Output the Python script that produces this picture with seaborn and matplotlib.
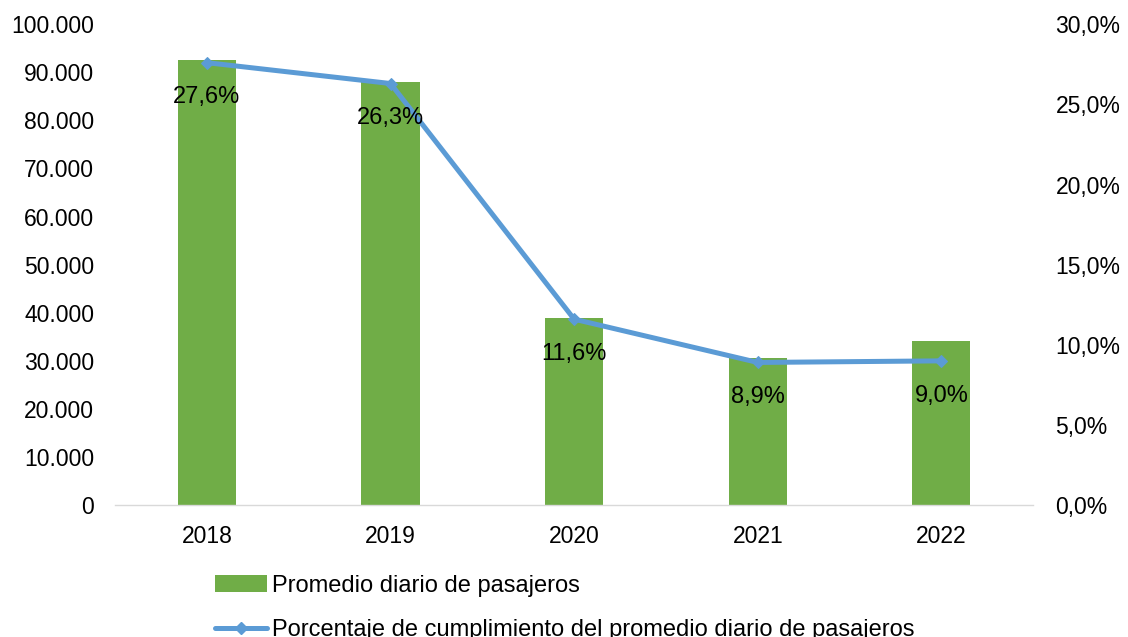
import matplotlib
matplotlib.use("Agg")
import matplotlib.pyplot as plt
import seaborn as sns
import pandas as pd
from matplotlib.ticker import FuncFormatter, MultipleLocator
from matplotlib.lines import Line2D
from matplotlib.patches import Patch

years = ["2018", "2019", "2020", "2021", "2022"]
pasajeros = [92500, 88000, 38900, 30600, 34200]
cumplimiento = [27.6, 26.3, 11.6, 8.9, 9.0]
bar_label = "Promedio diario de pasajeros"
line_label = "Porcentaje de cumplimiento del promedio diario de pasajeros"

sns.set_style("white")
plt.rcParams["font.family"] = ["Liberation Sans", "DejaVu Sans"]

df = pd.DataFrame({"year": years, "pas": pasajeros, "pct": cumplimiento})

fig = plt.figure(figsize=(11.28, 6.37), dpi=100)
ax = fig.add_axes([0.102, 0.207, 0.814, 0.755])
bar_c = "#70AD47"
line_c = "#5B9BD5"
fs = 16.5
sns.barplot(data=df, x="year", y="pas", color=bar_c, width=0.316, ax=ax,
            saturation=1, edgecolor="none")
ax.set_xlim(-0.5, 4.5)
ax.set_ylim(0, 100000)
ax.yaxis.set_major_locator(MultipleLocator(10000))
ax.yaxis.set_major_formatter(FuncFormatter(lambda v, p: f"{int(v):,}".replace(",", ".")))
ax.set_xlabel("")
ax.set_ylabel("")

ax2 = ax.twinx()
sns.lineplot(data=df, x="year", y="pct", color=line_c, linewidth=3.6, marker="D",
             markersize=6, markeredgecolor=line_c, ax=ax2, sort=False)
ax2.set_ylim(0, 30)
ax2.yaxis.set_major_locator(MultipleLocator(5))
ax2.yaxis.set_major_formatter(FuncFormatter(lambda v, p: f"{v:.1f}%".replace(".", ",")))
ax2.set_ylabel("")
ax2.set_xlim(-0.5, 4.5)

for i, v in enumerate(cumplimiento):
    ax2.annotate(f"{v:.1f}%".replace(".", ","), (i, v), xytext=(0, -25),
                 textcoords="offset points", ha="center", va="center",
                 fontsize=17, color="black")

for a in (ax, ax2):
    for s in a.spines.values():
        s.set_visible(False)
    a.tick_params(length=0, labelsize=fs, colors="black")
ax.spines["bottom"].set_visible(True)
ax.spines["bottom"].set_color("#D9D9D9")
ax.spines["bottom"].set_linewidth(1)
ax.tick_params(axis="y", pad=15)
ax.tick_params(axis="x", pad=14)
ax2.tick_params(axis="y", pad=16)

handles = [Patch(facecolor=bar_c, edgecolor="none"),
           Line2D([0], [0], color=line_c, linewidth=3.6, marker="D", markersize=6)]
fig.legend(handles, [bar_label, line_label], loc="upper left",
           bbox_to_anchor=(0.191, 0.098), frameon=False, fontsize=17,
           handlelength=2.2, handletextpad=0.2, labelspacing=0.95,
           borderaxespad=0, borderpad=0, labelcolor="black")

fig.savefig("out.png", dpi=100)
